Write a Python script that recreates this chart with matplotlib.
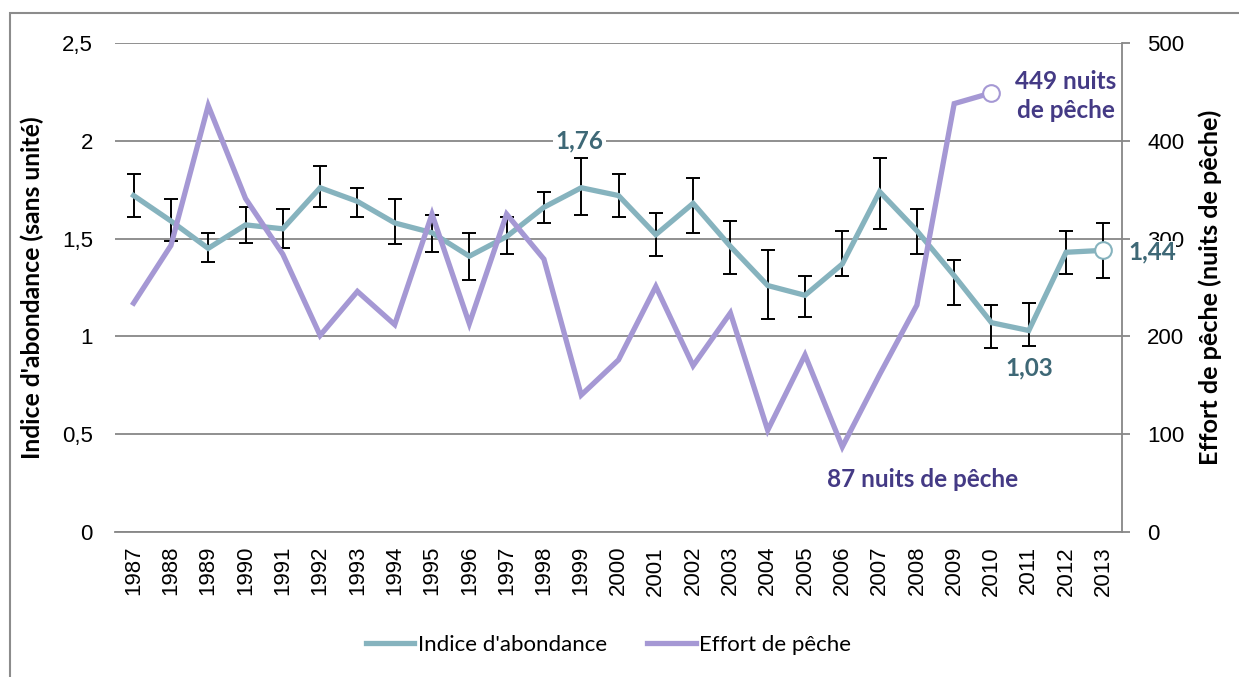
import matplotlib
matplotlib.use("Agg")
import matplotlib.pyplot as plt
from matplotlib.patches import Rectangle
import matplotlib.ticker as ticker

# données
annees = list(range(1987, 2014))
indice = [1.72, 1.59, 1.45, 1.57, 1.55, 1.76, 1.69, 1.58, 1.53, 1.41, 1.51, 1.66, 1.76, 1.72,
          1.52, 1.68, 1.46, 1.26, 1.21, 1.37, 1.74, 1.54, 1.31, 1.07, 1.03, 1.43, 1.44]
indice_haut = [1.83, 1.70, 1.53, 1.66, 1.65, 1.87, 1.76, 1.70, 1.62, 1.53, 1.61, 1.74, 1.91, 1.83,
               1.63, 1.81, 1.59, 1.44, 1.31, 1.54, 1.91, 1.65, 1.39, 1.16, 1.17, 1.54, 1.58]
indice_bas = [1.61, 1.49, 1.38, 1.48, 1.45, 1.66, 1.61, 1.47, 1.43, 1.29, 1.42, 1.58, 1.62, 1.61,
              1.41, 1.53, 1.32, 1.09, 1.10, 1.31, 1.55, 1.42, 1.16, 0.94, 0.95, 1.32, 1.30]
annees_effort = list(range(1987, 2011))
effort = [234, 293, 436, 341, 284, 201, 246, 212, 325, 213, 325, 279, 140, 176, 251, 170,
          224, 104, 181, 87, 161, 232, 438, 449]

C_TEAL = '#86B3BE'
C_VIOLET = '#A598D4'
C_TEAL_TXT = '#3E6876'
C_VIOLET_TXT = '#443A85'
C_GRILLE = '#878787'

TXT = ['Lato', 'DejaVu Sans']
TICK = ['Liberation Sans', 'DejaVu Sans']

fig = plt.figure(figsize=(12.39, 6.77), dpi=100)
ax = fig.add_axes([0.0928, 0.2142, 0.8128, 0.7223])
ax2 = ax.twinx()

# cadre gris autour du graphique
fig.patches.append(Rectangle((10 / 1239, -0.05), 1.1, 0.05 + (677 - 13) / 677,
                             transform=fig.transFigure, fill=False,
                             edgecolor='#8c8c8c', linewidth=1.5))

# indice d'abondance avec barres d'erreur
err = [[v - b for v, b in zip(indice, indice_bas)],
       [h - v for v, h in zip(indice, indice_haut)]]
ax.errorbar(annees, indice, yerr=err, fmt='none', ecolor='black', elinewidth=1.4,
            capsize=5, capthick=1.4, zorder=3)
ax.plot(annees, indice, color=C_TEAL, linewidth=3.8, zorder=4,
        solid_joinstyle='miter', label="Indice d'abondance")
ax.plot(annees[-1], indice[-1], 'o', markersize=12, markerfacecolor='white',
        markeredgecolor=C_TEAL, markeredgewidth=1.5, zorder=5)

# effort de pêche
ax2.plot(annees_effort, effort, color=C_VIOLET, linewidth=3.8, zorder=4,
         solid_joinstyle='miter', label='Effort de pêche')
ax2.plot(annees_effort[-1], effort[-1], 'o', markersize=12, markerfacecolor='white',
         markeredgecolor=C_VIOLET, markeredgewidth=1.5, zorder=5)

ax.set_xlim(1986.5, 2013.5)
ax.set_ylim(0, 2.5)
ax2.set_ylim(0, 500)
ax.set_yticks([0, 0.5, 1, 1.5, 2, 2.5])
ax.yaxis.set_major_formatter(ticker.FuncFormatter(lambda v, p: f'{v:g}'.replace('.', ',')))
ax2.set_yticks([0, 100, 200, 300, 400, 500])
ax.set_xticks(annees)
ax.set_xticklabels([str(a) for a in annees], rotation=90, family=TICK, fontsize=16)

ax.grid(axis='y', color=C_GRILLE, linewidth=1.3)
ax.set_axisbelow(True)
for s in ['top', 'left', 'right']:
    ax.spines[s].set_visible(False)
for s in ['top', 'left', 'bottom']:
    ax2.spines[s].set_visible(False)
ax.spines['bottom'].set_color(C_GRILLE)
ax.spines['bottom'].set_linewidth(1.3)
ax2.spines['right'].set_color(C_GRILLE)
ax2.spines['right'].set_linewidth(1.3)

ax.tick_params(axis='x', length=0, pad=10)
ax.tick_params(axis='y', length=0, pad=16, labelsize=16)
ax2.tick_params(axis='y', length=6, width=1.3, color=C_GRILLE, pad=12, labelsize=16)
for lab in ax.get_yticklabels() + ax2.get_yticklabels():
    lab.set_family(TICK)

ax.set_ylabel("Indice d'abondance (sans unité)", family=TXT, fontweight='bold',
              fontsize=17.8, labelpad=13)
ax2.set_ylabel('Effort de pêche (nuits de pêche)', family=TXT, fontweight='bold',
               fontsize=18.2, labelpad=10)

# étiquettes de valeurs
fond = dict(facecolor='white', edgecolor='none', pad=2)
ax.text(1998.95, 2.0, '1,76', color=C_TEAL_TXT, family=TXT, fontweight='bold',
        fontsize=17.5, ha='center', va='center', bbox=fond, zorder=6)
ax.text(2011, 0.84, '1,03', color=C_TEAL_TXT, family=TXT, fontweight='bold',
        fontsize=17.5, ha='center', va='center', zorder=6)
ax2.text(2013.67, 286, '1,44', color=C_TEAL_TXT, family=TXT, fontweight='bold',
         fontsize=17.5, ha='left', va='center', bbox=dict(facecolor='white', edgecolor='none', pad=0),
         zorder=6)
ax2.text(2012.0, 446, '449 nuits\nde pêche', color=C_VIOLET_TXT, family=TXT,
         fontweight='bold', fontsize=17.5, ha='center', va='center', linespacing=1.3, zorder=6)
ax2.text(2008.15, 54, '87 nuits de pêche', color=C_VIOLET_TXT, family=TXT,
         fontweight='bold', fontsize=17.5, ha='center', va='center', zorder=6)

h1, l1 = ax.get_legend_handles_labels()
h2, l2 = ax2.get_legend_handles_labels()
fig.legend(h1 + h2, l1 + l2, loc='center', bbox_to_anchor=(0.491, 0.047), ncol=2,
           frameon=False, prop={'family': TXT, 'size': 16}, handlelength=2.2,
           handletextpad=0.15, columnspacing=1.8)

fig.savefig('out.png', dpi=100)
